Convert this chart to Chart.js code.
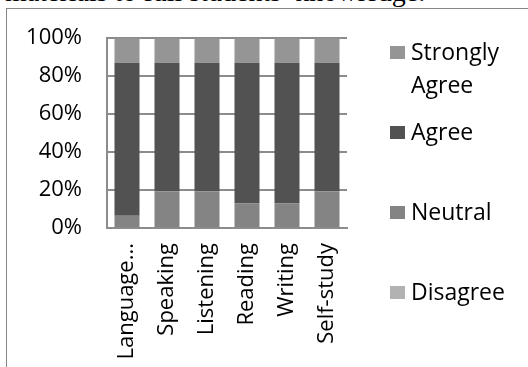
<!DOCTYPE html>
<html>
<head>
<meta charset="utf-8">
<script src="https://cdn.jsdelivr.net/npm/chart.js@4.4.0/dist/chart.umd.min.js"></script>
<style>
    body { margin: 0; background: #fff; width: 528px; height: 367px; overflow: hidden; position: relative; }
    .caption {
        position: absolute; left: 5px; top: -22px;
        font-family: "Liberation Serif", "Times New Roman", serif;
        font-size: 28px; line-height: 28px; white-space: nowrap; color: #000;
    }
    .frame { position: absolute; left: 6px; top: 8px; width: 600px; height: 420px; border: 1px solid #868686; }
    #chart { position: absolute; left: 0; top: 0; }
    .legend { position: absolute; left: 390px; top: 0; font-family: "Open Sans", sans-serif; font-size: 23px; color: #000; }
    .legend-item { position: absolute; left: 0; white-space: nowrap; line-height: 33px; }
    .legend-item span.box { position: absolute; left: 0; width: 15px; height: 13px; }
    .legend-item span.txt { position: absolute; left: 21px; top: 0; }
</style>
</head>
<body>
<div class="caption">materials to full students’ knowledge.</div>
<div class="frame"></div>
<canvas id="chart" width="528" height="367"></canvas>
<div class="legend" id="legend"></div>

<script>
const categories = ['Language...', 'Speaking', 'Listening', 'Reading', 'Writing', 'Self-study'];
const disagree = [0, 0, 0, 0, 0, 0];
const neutral = [6.5, 19.4, 19.4, 12.9, 12.9, 19.4];
const agree = [80.6, 67.7, 67.7, 74.2, 74.2, 67.7];
const stronglyAgree = [12.9, 12.9, 12.9, 12.9, 12.9, 12.9];
const yTicks = [0, 20, 40, 60, 80, 100];

const colors = {
    disagree: '#b2b2b2',
    neutral: '#848484',
    agree: '#525252',
    strong: '#959595'
};

const fontName = '"Open Sans", sans-serif';

const ctx = document.getElementById('chart');

new Chart(ctx, {
    type: 'bar',
    data: {
        labels: categories,
        datasets: [
            { label: 'Disagree', data: disagree, backgroundColor: colors.disagree },
            { label: 'Neutral', data: neutral, backgroundColor: colors.neutral },
            { label: 'Agree', data: agree, backgroundColor: colors.agree },
            { label: 'Strongly Agree', data: stronglyAgree, backgroundColor: colors.strong }
        ]
    },
    options: {
        responsive: false,
        animation: false,
        events: [],
        datasets: {
            bar: { categoryPercentage: 1, barPercentage: 0.625, borderWidth: 0 }
        },
        layout: {
            padding: { left: 0, top: 37, right: 181, bottom: 0 }
        },
        plugins: {
            legend: { display: false },
            tooltip: { enabled: false }
        },
        scales: {
            x: {
                stacked: true,
                grid: { display: false, drawTicks: false },
                border: { display: true, color: '#8c8c8c', width: 2 },
                ticks: {
                    color: '#000',
                    font: { family: fontName, size: 22 },
                    minRotation: 90,
                    maxRotation: 90,
                    autoSkip: false,
                    padding: 15
                },
                afterFit: (scale) => { scale.height = 139; }
            },
            y: {
                stacked: true,
                min: 0,
                max: 100,
                afterBuildTicks: (scale) => { scale.ticks = yTicks.map(v => ({ value: v })); },
                grid: { color: '#8c8c8c', lineWidth: 2, drawTicks: false },
                border: { display: true, color: '#8c8c8c', width: 2 },
                ticks: {
                    color: '#000',
                    font: { family: fontName, size: 22 },
                    padding: 25,
                    callback: v => v + '%'
                },
                afterFit: (scale) => { scale.width = 107; }
            }
        }
    }
});

// legend, listed top to bottom like the original (reverse of stacking)
const legendItems = [
    { text: ['Strongly', 'Agree'], color: colors.strong, top: 35 },
    { text: ['Agree'], color: colors.agree, top: 115 },
    { text: ['Neutral'], color: colors.neutral, top: 195 },
    { text: ['Disagree'], color: colors.disagree, top: 275 }
];
let out = '';
for (let item of legendItems) {
    out += `
        <div class="legend-item" style="top:${item.top}px">
            <span class="box" style="background:${item.color}; top:11px"></span>
            <span class="txt">${item.text.join('<br>')}</span>
        </div>`;
}
document.getElementById('legend').innerHTML = out;
</script>
</body>
</html>
